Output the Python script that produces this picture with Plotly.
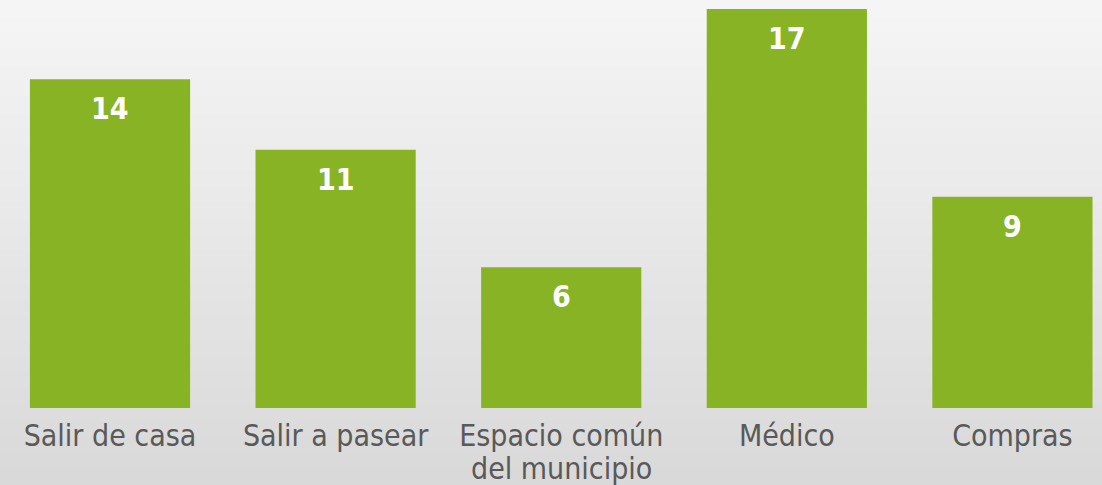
import plotly.graph_objects as go

categories = ["Salir de casa", "Salir a pasear", "Espacio común<br>del municipio", "Médico", "Compras"]
values = [14, 11, 6, 17, 9]

BAR_COLOR = "#87b324"
LABEL_GRAY = "#595959"
FONT = "DejaVu Sans Condensed, DejaVu Sans, sans-serif"

fig = go.Figure()
fig.add_trace(go.Bar(
    x=list(range(len(categories))),
    y=values,
    marker=dict(color=BAR_COLOR, line=dict(width=0)),
    width=0.71,
    hoverinfo="skip",
))

annotations = []
for i, v in enumerate(values):
    annotations.append(dict(
        x=i, y=v, xref="x", yref="y",
        text=f"<b>{v}</b>", showarrow=False,
        yanchor="top", yshift=-10,
        font=dict(family=FONT, size=30, color="white"),
    ))

# first line of each category as tick label, further lines as annotations
first_lines = []
for i, c in enumerate(categories):
    lines = c.split("<br>")
    first_lines.append(lines[0])
    for j, extra in enumerate(lines[1:], start=1):
        annotations.append(dict(
            x=i, y=0, xref="x", yref="y",
            text=extra, showarrow=False,
            yanchor="top", yshift=-(10 + 31 * j),
            font=dict(family=FONT, size=30, color=LABEL_GRAY),
        ))

# vertical background gradient (overlapping bands to avoid seams)
n = 60
top = (245, 245, 245)
bot = (217, 217, 217)
shapes = []
scale = 485 / 408
for k in range(n):
    t = k / (n - 1)
    c = tuple(round(top[j] + (bot[j] - top[j]) * t) for j in range(3))
    shapes.append(dict(
        type="rect", xref="paper", yref="paper",
        x0=-0.01, x1=1.01,
        y0=1 - (k + 1.6) / n * scale,
        y1=1 - k / n * scale + (0.02 if k == 0 else 0),
        fillcolor=f"rgb{c}", line=dict(width=0), layer="below",
    ))

fig.update_layout(
    width=1102, height=485,
    margin=dict(l=0, r=0, t=0, b=77),
    paper_bgcolor="#e6e6e6",
    plot_bgcolor="rgba(0,0,0,0)",
    showlegend=False,
    shapes=shapes,
    annotations=annotations,
    xaxis=dict(
        range=[-0.4876, 4.397],
        tickmode="array",
        tickvals=list(range(len(categories))),
        ticktext=first_lines,
        tickfont=dict(family=FONT, size=30, color=LABEL_GRAY),
        showgrid=False, zeroline=False, showline=False, ticks="",
        ticklabelstandoff=7,
        fixedrange=True,
    ),
    yaxis=dict(
        range=[0, 17.38],
        visible=False,
        showgrid=False, zeroline=False,
        fixedrange=True,
    ),
)

fig.write_html("out.html", config={"displayModeBar": False},
               post_script="document.body.style.margin='0';document.body.style.overflow='hidden';")
